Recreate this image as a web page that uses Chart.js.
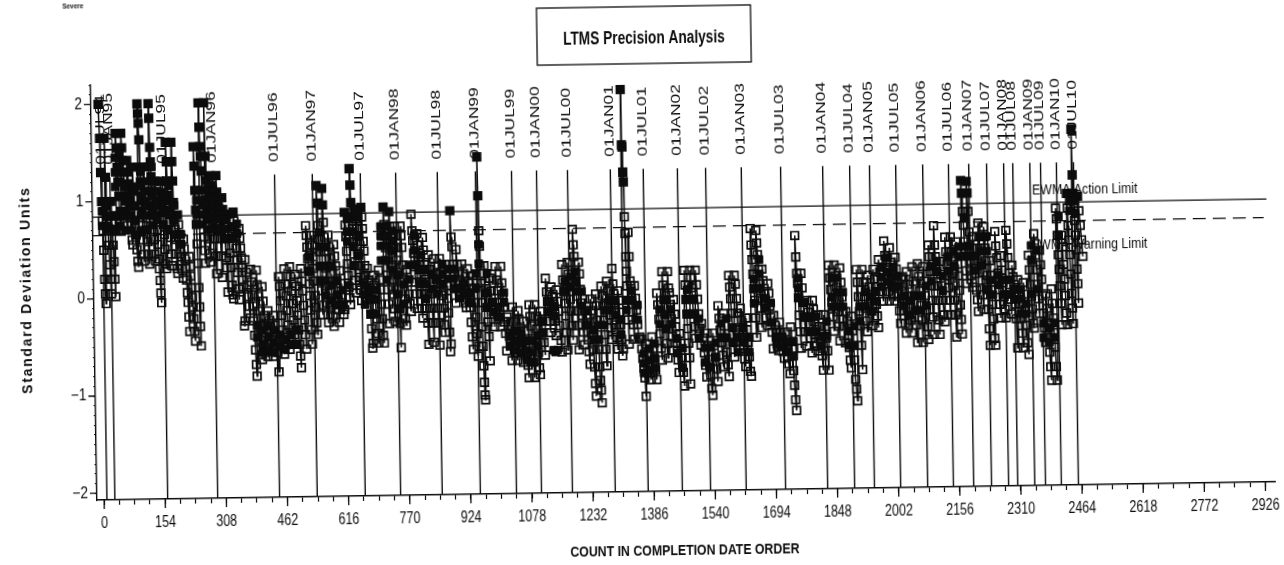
<!DOCTYPE html>
<html><head><meta charset="utf-8">
<style>html,body{margin:0;padding:0;background:#fff;overflow:hidden;width:1284px;height:565px}
canvas{position:absolute;left:0;top:0;transform-origin:104px 499px;transform:rotate(-0.89deg)}</style>
<script src="https://cdn.jsdelivr.net/npm/chart.js@4/dist/chart.umd.min.js"></script>
</head><body><canvas id="c" width="1300" height="600"></canvas>
<script>
const chartTitle='LTMS Precision Analysis';
const severity='Severe';
const xTitle='COUNT IN COMPLETION DATE ORDER';
const yTitle='Standard Deviation Units';
const dateLabels=['01JUL94','01JAN95','01JUL95','01JAN96','01JUL96','01JAN97','01JUL97','01JAN98','01JUL98','01JAN99','01JUL99','01JAN00','01JUL00','01JAN01','01JUL01','01JAN02','01JUL02','01JAN03','01JUL03','01JAN04','01JUL04','01JAN05','01JUL05','01JAN06','01JUL06','01JAN07','01JUL07','01JAN08','01JUL08','01JAN09','01JUL09','01JAN10','01JUL10'];
const dateCounts=[7,27,160,286,442,537,658,747,852,948,1039,1102,1180,1288,1371,1457,1528,1618,1717,1823,1891,1941,2007,2075,2140,2191,2236,2279,2302,2345,2372,2412,2455];
const actionLimit=[0.84,0.84];
const warningLimit=[0.65,0.65];
const actionCounts=[-18,2940];
const warningCounts=[-18,2932];
const filledLowCounts=[1138,1143,1148];
const filledLowValues=[-0.6,-0.62,-0.6];
const columnStep=14;
const columnValues=[
[2,2,1.65,1.3,1,.8,.7,.5,.2,.05,-.05],
[1.65,1.25,1,.85,.7,.55,.35,.2,.05],
[1,.85,.7,.55,.38,.2,.02,.85,.7],
[1.7,1.55,1.35,1.2,1.05,.85,.7,.85],
[1.7,1.55,1.42,1.3,1.15,1.05,.9,.75],
[1.42,1.3,1.18,1.05,.95,.85,.75,.6,.55],
[1.35,1.1,.95,.8,.65,.5,.38,.32],
[2,1.9,1.8,1.63,1.35,1.2,1.05,.9,.75,.6,.45,.38],
[1.35,1.1,.95,.82,.7,.58,.45,.35],
[2,1.85,1.55,1.4,1.25,1.1,.95,.85,.7,.6,.45,.38],
[1.2,1,.85,.7,.55,.4,.3,.18,.05,-.05],
[1.2,1.08,.98,.88,.75,.65,.5,.35,.3],
[1.6,1.4,1.2,1.05,.9,.78,.62,.45,.33],
[1.6,1.4,1.2,.98,.8,.7,.6,.45,.3,.25],
[.85,.75,.65,.55,.42,.3,.2],
[.6,.5,.4,.3,.18,.05,-.05,-.2,-.35],
[.42,.32,.22,.1,0,-.1,-.22,-.35,-.45],
[1.55,1.35,1.1,.9,.75,.55,.35,.1,-.1,-.3,-.5],
[2,1.75,1.55,1.45,1.3,1.1,.95,.8,.62,.48,.35],
[2,1.45,1.2,1,.88,.75,.6,.45,.36],
[1.25,1.15,1.05,.92,.8,.7,.6,.42,.24],
[1.25,1.08,.98,.85,.78,.7,.6,.42,.2],
[1.02,.9,.8,.72,.6,.4,.3,.05],
[.85,.72,.6,.45,.3,.12,.02,-.02],
[.87,.78,.7,.62,.5,.38,.25,.08,-.03],
[.7,.6,.5,.4,.3,.1,-.3,-.25],
[.38,.25,.12,0,-.1,-.22],
[.28,.15,.02,-.1,-.25,-.4,-.55,-.7,-.82],
[.27,.12,0,-.15,-.3,-.45,-.6,-.65],
[.1,-.05,-.2,-.3,-.42,-.55,-.62],
[-.15,-.25,-.35,-.45,-.55,-.62],
[-.2,-.3,-.4,-.5,-.58,-.78],
[.2,.1,-.05,-.2,-.35,-.48,-.6],
[.28,.12,0,-.15,-.3,-.45,-.55],
[.3,.2,.05,-.08,-.25,-.4,-.5],
[.22,.1,-.05,-.2,-.35,-.5,-.62,-.74],
[.28,.15,.05,-.1,-.25,-.4,-.55],
[.72,.62,.5,.38,.25,.12,0,-.15,-.35,-.5],
[.62,.52,.4,.28,.15,0,-.12,-.28,-.4],
[1.13,.95,.72,.58,.45,.3,.15,.05,-.1,-.2],
[1.1,.93,.75,.6,.45,.28,.1,-.08,-.2,-.28],
[.62,.5,.38,.22,.05,-.1,-.22,-.32],
[.52,.4,.3,.15,0,-.15,-.28],
[.25,.12,0,-.1,-.2,-.15],
[.85,.72,.6,.45,.32,.2,.08,-.03,-.1],
[1.3,1.13,.95,.8,.68,.55,.42,.3,.15,.02],
[.88,.78,.68,.55,.42,.3,.18,.05,-.06],
[.9,.8,.68,.55,.45,.3,.2,.05,-.05],
[.27,.15,.05,-.05,-.2,-.35,-.55,-.5],
[.2,.1,0,-.12,-.25,-.4,-.5],
[.25,.15,.05,-.1,-.25,-.42,-.5],
[.9,.72,.6,.48,.35,.2,.05,-.1,-.3],
[.85,.7,.55,.45,.3,.15,0,-.15,-.28],
[.7,.6,.48,.35,.2,.05,-.15,-.3,-.55],
[.7,.6,.48,.3,.15,-.05,-.25,-.32],
[.25,.12,0,-.1,-.18],
[.82,.65,.55,.42,.28,.12,0,-.15],
[.62,.5,.38,.25,.12,0,-.15,-.25],
[.58,.45,.3,.15,0,-.15,-.3,-.52],
[.4,.25,.12,0,-.15,-.3,-.5],
[.36,.28,.15,.02,-.15,-.3,-.53],
[.36,.22,.1,-.02,-.15,-.32,-.4],
[.3,.2,.08,-.05,-.2,-.4,-.6,-.52],
[.85,.58,.48,.3,.2,.05,-.1],
[.45,.3,.22,.1,0,.05],
[.3,.2,.1,0,-.1,-.15,-.05],
[.25,.12,0,-.15,-.3,-.45,-.58],
[.18,.05,-.1,-.25,-.42,-.65,-.55],
[1.4,1,.64,.48,.28,.1,-.1,-.35,-.55,-.75,-.92,-1.05,-1.1],
[.28,.12,0,-.15,-.3,-.45,-.7],
[.15,.02,-.1,-.22,-.35],
[.27,.13,.02,-.1,-.25,-.35],
[.27,.1,-.02,-.15,-.3,-.42,-.6],
[-.25,-.35,-.45,-.55,-.7],
[-.15,-.3,-.4,-.5,-.62,-.7],
[-.19,-.28,-.4,-.5,-.6,-.72],
[-.3,-.4,-.5,-.62,-.75,-.88],
[-.13,-.25,-.35,-.48,-.6,-.72,-.88],
[-.13,-.25,-.38,-.5,-.62,-.78,-.85],
[-.2,-.3,-.42,-.52,-.65],
[.14,0,-.1,-.2,-.3,-.42],
[.05,-.05,-.15,-.3,-.45],
[.02,-.1,-.2,-.35,-.5,-.62],
[.28,.12,0,-.12,-.25,-.42,-.6],
[.3,.18,.05,-.08,-.2,-.35,-.5],
[.64,.48,.36,.22,.1,-.05,-.2,-.35,-.6],
[.3,.18,.02,-.12,-.25,-.42,-.55],
[-.08,-.2,-.35,-.5,-.62,-.75],
[-.08,-.2,-.32,-.45,-.6,-.78,-.95,-1.08],
[-.03,-.15,-.3,-.45,-.6,-.78,-.92,-1.02,-1.15],
[.05,-.05,-.15,-.3,-.45,-.6,-.77],
[.1,0,-.12,-.25,-.38,-.5],
[.23,.07,-.03,-.12,-.22,-.35,-.48,-.6],
[0,-.1,-.22,-.35,-.5,-.67,-.6],
[2.07,1.5,1.48,1.22,1.12,.76,.59,.35,.2,.05,-.1,-.3,-.55],
[.6,.35,.1,.05,-.1,-.22,-.35,-.5],
[.05,-.08,-.2,-.35,-.5,-.48],
[-.5,-.6,-.7,-.8,-.9,-1.09],
[-.55,-.65,-.75,-.85,-.92],
[-.48,-.6,-.7,-.82,-.92],
[-.03,-.15,-.3,-.45,-.6,-.72],
[.19,.05,-.1,-.25,-.4,-.55,-.7],
[.19,.02,-.03,-.15,-.3,-.48,-.62],
[-.1,-.25,-.38,-.55,-.72,-.85],
[-.45,-.55,-.7,-.85,-.99],
[.2,.05,-.1,-.25,-.4,-.55,-.7,-.97],
[.2,.12,.02,-.1,-.25,-.38,-.5],
[.2,.05,-.1,-.25,-.4,-.57],
[-.35,-.5,-.65,-.78,-.9],
[-.45,-.58,-.72,-.88,-1.02,-1.09],
[-.45,-.58,-.7,-.82,-.95],
[-.17,-.3,-.42,-.55,-.68,-.8],
[-.25,-.38,-.5,-.65,-.78,-.9],
[.14,.02,-.1,-.25,-.4,-.55,-.7],
[.14,.05,-.1,-.25,-.42,-.62],
[-.2,-.32,-.45,-.58,-.72,-.8],
[-.3,-.42,-.55,-.7,-.85,-.9],
[.62,.45,.3,.15,0,-.12,-.3,-.5],
[.6,.47,.35,.2,.05,-.1,-.2,-.4],
[.2,.08,-.05,-.18,-.3,-.38],
[.05,-.05,-.18,-.3,-.45,-.62],
[-.28,-.38,-.5,-.6,-.64],
[-.35,-.45,-.55,-.65,-.72],
[-.45,-.55,-.65,-.78,-.88],
[-.4,-.55,-.7,-.85,-1,-1.15,-1.26],
[.54,.32,.15,.05,-.1,-.28,-.45,-.62],
[.15,0,-.15,-.3,-.45,-.6],
[-.13,-.25,-.38,-.52,-.67],
[-.13,-.22,-.35,-.48,-.6,-.65],
[-.28,-.4,-.55,-.7,-.85],
[-.28,-.4,-.52,-.65,-.85],
[.23,.1,-.02,-.15,-.3,-.45],
[.23,.12,0,-.12,-.25,-.4,-.55],
[.2,.05,-.1,-.25,-.4,-.57],
[-.25,-.35,-.5,-.62,-.75,-.83],
[-.3,-.45,-.6,-.75,-.95,-1.05,-1.17],
[.18,.05,-.1,-.25,-.4,-.6,-.85],
[.18,.05,-.1,-.22,-.35,-.46],
[.12,0,-.12,-.25,-.4],
[.18,.08,-.05,-.18,-.3,-.42],
[.28,.15,.05,-.05,-.15],
[.47,.32,.2,.08,-.05,-.15],
[.4,.25,.12,0,-.08,-.15],
[.3,.18,.05,-.1,-.25,-.38],
[.1,0,-.12,-.25,-.38,-.48],
[.15,.02,-.1,-.22,-.35,-.48],
[.2,.05,-.1,-.25,-.4,-.58],
[.23,.1,-.05,-.2,-.35,-.58],
[.2,.05,-.1,-.25,-.42,-.55],
[.42,.3,.15,0,-.15,-.32,-.5],
[.62,.42,.3,.15,0,-.15,-.35,-.5],
[.25,.12,0,-.15,-.3,-.37],
[.5,.35,.22,.1,-.02,-.15,-.3],
[.5,.35,.25,.12,0,-.15,-.3,-.53],
[.45,.35,.22,.1,-.05,-.2,-.35,-.5],
[1.08,.95,.76,.62,.45,.3,.15,.02],
[1.07,.95,.76,.55,.4,.25,.1,-.02],
[.5,.38,.25,.12,-.05,-.15,-.27],
[.64,.5,.38,.22,.05,-.1,-.25],
[.6,.5,.38,.25,.1,-.05,-.25,-.45,-.62],
[.25,.1,-.05,-.2,-.35,-.55,-.62],
[.55,.4,.28,.12,-.05,-.2,-.34],
[.3,.15,.02,-.12,-.25,-.34],
[.56,.42,.28,.12,0,-.15,-.3],
[.2,.08,-.05,-.2,-.35,-.65],
[.05,-.08,-.2,-.35,-.5,-.65],
[.02,-.1,-.25,-.42,-.6,-.72],
[.3,.15,0,-.12,-.25,-.4,-.45],
[.52,.42,.3,.15,0,-.15,-.3],
[.35,.2,.05,-.12,-.3,-.45,-.6],
[-.1,-.25,-.4,-.55,-.7,-.85,-.99],
[-.05,-.2,-.35,-.5,-.65,-.85,-.99],
[.78,.67,.5,.3,.15,-.02,-.2,-.42],
[.5,.38,.2,.05,-.12,-.3,-.42],
[.93,.78,.6,.45,.3,.1,-.1,-.25,-.41],
[1.59,1.12,.93,.8,.65,.5,.35,.15,0,-.2],
[.9,.75,.6,.45,.28]
];
const coreCounts=[6,16,26,40,52,64,78,90,104,118,132,146,160,174,188,204,244,258,272,286,300,316,336,345,392,406,420,434,448,462,476,490,525,553,567,581,595,609,623,637,651,665,679,693,707,721,735,749,763,777,791,805,819,833,847,861,875,889,903,917,931,945,953,973,987,1001,1015,1029,1043,1057,1071,1085,1099,1113,1127,1141,1169,1183,1197,1211,1225,1239,1253,1267,1281,1295,1309,1323,1337,1351,1365,1379,1393,1407,1421,1435,1449,1463,1477,1491,1505,1519,1533,1547,1561,1575,1589,1603,1617,1631,1645,1659,1673,1687,1701,1715,1729,1743,1757,1771,1785,1799,1813,1827,1841,1855,1869,1883,1897,1911,1925,1939,1953,1967,1981,1995,2009,2023,2037,2051,2065,2079,2093,2107,2121,2135,2149,2163,2177,2191,2205,2219,2233,2247,2261,2275,2289,2303,2317,2331,2345,2359,2373,2387,2401,2415,2443,2457];
const coreValues=[[.75,.9],[.75,.85,.95],[.72,.85],[1.15,1.3,1.45,.7,.85],[1.2,1.35,1.5,.75,.9],[1.15,1.3,.7,.85,1],[.7,.85,1],[.65,.8,.95,1.15],[.7,.85,1,1.15,1.3],[.7,.85,1,1.2],[.75,.9,1.05,1.2,1.35],[.8,.95,1.1],[.75,.9,1.05],[.7,.85,1,1.15],[.65,.8,.95],[.55,.65],[.75,.85,1,1.1],[.75,.85,1,1.3],[.7,.8,.95,1.1],[.7,.82,.95,1.1],[.68,.8,.92],[.6,.7,.8],[.6,.72],[.65,.75],[-.3,-.42],[-.35,-.5,-.58],[-.3,-.42,-.55],[-.35,-.48,-.58],[-.4,-.52],[-.45,-.55],[-.4,-.5],[-.35,-.5],[.25,.4],[.65,.5,.3,.15],[.5,.3,.15,0],[.3,.1,-.05],[.15,0,-.1],[.05,-.1],[.65,.78,.55,.1],[.8,.65,.5,.3],[.6,.8,.4],[0,.1,-.1],[-.05,.05,-.2],[-.05,.05,-.2],[.6,.7,.5,.35],[.6,.7,.5,.35,.15],[.55,.65,.45,.25],[.2,0,-.15],[.1,-.1],[.3,.15],[.3,.45,.6],[.4,.25,.1],[.25,.1,-.05],[.2,.05],[.15,0],[.3,.2,.1],[.25,.15],[.25,.15,.05],[.05,-.05],[.1,0],[0,-.1],[.2,.05],[.5,.3],[.2,0,-.15],[-.1,-.2],[-.15,-.25],[0,-.1],[-.45,-.55],[-.4,-.5,-.6],[-.42,-.52,-.62],[-.5,-.6,-.7],[-.5,-.62,-.72],[-.45,-.55],[-.3,-.42],[-.1,-.2],[-.15,-.25],[.1,0],[.15,.05],[.2,.1,0],[0,-.15],[-.2,-.35],[-.4,-.5],[-.35,-.5],[-.2,-.35],[-.1,-.2],[-.1,-.25],[-.3,-.45],[-.1,-.2],[-.1,0],[-.15,-.3],[-.65,-.75,-.85],[-.6,-.72,-.82],[-.55,-.7,-.8],[-.2,-.35],[-.1,-.25,-.4],[-.2,-.35],[-.5,-.65],[-.6,-.8],[-.1,0,-.25],[-.1,-.25],[-.3,-.5],[-.6,-.75],[-.6,-.8],[-.55,-.7],[-.35,-.5],[-.3,-.5],[-.4,-.55],[-.5,-.65],[-.4,-.55],[-.5,-.65],[.1,0,-.15],[.3,.15,0],[-.1,-.2],[-.15,-.35],[-.5,-.58],[-.5,-.6],[-.55,-.65],[-.55,-.7],[.1,0,-.1],[-.15,-.3],[-.3,-.45],[-.3,-.45],[-.5,-.6],[-.35,-.5],[.1,-.1,-.2],[.1,-.05,-.2],[-.05,-.2],[-.45,-.6],[-.4,-.6],[-.2,-.35],[-.05,-.2],[-.1,-.25],[-.05,-.15],[.2,.1,0],[.3,.15,.05],[.2,.1,0],[0,.1],[-.1,-.2],[-.15,-.3],[-.1,-.25],[-.1,-.25],[0,-.2],[.2,.05],[.25,.15],[.1,-.05],[.3,.15],[.35,.2],[.4,.3],[.7,.4,.3],[.4,.3],[.3,.15],[.5,.35,.2],[.5,.35,-.05],[.05,-.1],[.1,0],[.05,-.1],[.05,-.1],[-.05,-.15],[-.05,-.15,-.3],[-.2,-.3],[.4,.25,-.1],[.35,-.05],[-.4,-.55],[-.45,-.6],[-.4,-.55],[.7,.5],[.85,.75],[.85,.72]];
const lineTop=1.25, labelBase=1.38, yFloor=-2.07;
const ink='#0c0c0c', sans='"Liberation Sans",sans-serif';
const ewmaPoints=columnValues.flatMap((col,i)=>col.map((v,j)=>({x:i*columnStep+j*columnStep/col.length,y:v})));
const corePoints=coreCounts.flatMap((x,i)=>coreValues[i].map(y=>({x,y}))).concat(filledLowCounts.map((x,i)=>({x,y:filledLowValues[i]})));
const refPoints=dateCounts.flatMap(c=>[{x:c,y:yFloor},{x:c,y:lineTop},{x:c,y:null}]);
const isMajorX=v=>Math.abs(v%154)<1e-6;
const isMajorY=v=>Math.abs(v-Math.round(v))<1e-6;
function squeezed(c,text,x,y,sx){c.save();c.translate(x,y);c.scale(sx,1);c.fillText(text,0,0);c.restore();}
const decor={id:'decor',
 afterDraw(ch){
  const c=ch.ctx,xs=ch.scales.x,ys=ch.scales.y,bottom=ch.chartArea.bottom,left=ch.chartArea.left;
  c.save();c.fillStyle=ink;c.strokeStyle=ink;
  c.lineWidth=1.3;c.beginPath();
  xs.ticks.forEach(t=>{if(isMajorX(t.value)){const p=xs.getPixelForValue(t.value);c.moveTo(p,bottom);c.lineTo(p,bottom+9);}});
  ys.ticks.forEach(t=>{if(isMajorY(t.value)){const p=ys.getPixelForValue(t.value);c.moveTo(left,p);c.lineTo(left-7,p);}});
  c.stroke();
  // axis numbers, condensed like the scan
  c.textAlign='center';c.textBaseline='middle';c.font='16px '+sans;
  xs.ticks.forEach(t=>{if(isMajorX(t.value))squeezed(c,String(Math.round(t.value)),xs.getPixelForValue(t.value),bottom+24,0.78);});
  c.textAlign='right';c.font='16px '+sans;
  ys.ticks.forEach(t=>{if(isMajorY(t.value)){const r=Math.round(t.value);squeezed(c,r<0?'−'+(-r):String(r),left-9,ys.getPixelForValue(t.value),0.85);}});
  // date labels
  c.textAlign='left';c.textBaseline='middle';c.font='12px '+sans;
  dateLabels.forEach((l,i)=>{
    c.save();c.translate(xs.getPixelForValue(dateCounts[i]),ys.getPixelForValue(labelBase));
    c.rotate(-Math.PI/2);c.scale(1.45,1);c.fillText(l,0,0);c.restore();
  });
  // limit labels
  c.font='15px '+sans;
  squeezed(c,'EWMA Action Limit',xs.getPixelForValue(2350),ys.getPixelForValue(0.97),0.82);
  squeezed(c,'EWMA Warning Limit',xs.getPixelForValue(2345),ys.getPixelForValue(0.40),0.82);
  // title box
  c.lineWidth=1.3;c.strokeRect(544,15,214,57);
  c.textAlign='center';c.font='bold 18px '+sans;squeezed(c,chartTitle,651,47,0.76);
  c.textAlign='left';c.font='bold 8px '+sans;squeezed(c,severity,70,6,0.8);
  // axis titles
  c.textAlign='center';c.font='bold 14px '+sans;squeezed(c,xTitle,684,560,0.88);
  c.save();c.translate(30,289);c.rotate(-Math.PI/2);
  c.font='bold 14px '+sans;c.letterSpacing='1.7px';c.fillText(yTitle,0,0);c.restore();
  c.restore();
 }};
new Chart(document.getElementById('c'),{
 type:'scatter',
 data:{datasets:[
  {label:'EWMA',data:ewmaPoints,showLine:true,borderColor:ink,borderWidth:1.5,pointStyle:'rect',pointRadius:5.4,pointBorderWidth:1.7,pointBorderColor:ink,
   pointBackgroundColor:ctx=>ctx.raw&&ctx.raw.y>=actionLimit[0]?ink:'rgba(255,255,255,0)',order:1},
  {label:'Filled',data:corePoints,showLine:false,pointStyle:'rect',pointRadius:5.4,pointBackgroundColor:ink,pointBorderColor:ink,order:0},
  {label:'Action limit',data:actionCounts.map((x,i)=>({x,y:actionLimit[i]})),showLine:true,borderColor:ink,borderWidth:1.3,pointRadius:0,order:3},
  {label:'Warning limit',data:warningCounts.map((x,i)=>({x,y:warningLimit[i]})),showLine:true,borderColor:ink,borderWidth:1.3,borderDash:[13,7],pointRadius:0,order:3},
  {label:'Dates',data:refPoints,showLine:true,spanGaps:false,borderColor:ink,borderWidth:1.4,pointRadius:0,order:2}
 ]},
 options:{responsive:false,animation:false,devicePixelRatio:1,
  layout:{padding:{top:85,right:25,left:0,bottom:0}},
  plugins:{legend:{display:false},tooltip:{enabled:false}},
  scales:{
   x:{type:'linear',min:-18,max:2950,
    afterFit(s){s.height=100;},
    border:{color:ink,width:1.4},
    grid:{drawOnChartArea:false,tickColor:ink,tickLength:5,tickWidth:1.2},
    ticks:{stepSize:38.5,includeBounds:false,autoSkip:false,maxRotation:0,minRotation:0,color:'rgba(0,0,0,0)',callback:()=>''}
   },
   y:{type:'linear',min:yFloor,max:2.2,
    afterFit(s){s.width=97;},
    border:{color:ink,width:1.4},
    grid:{drawOnChartArea:false,tickColor:ink,tickLength:2,tickWidth:1},
    ticks:{stepSize:0.1,includeBounds:false,autoSkip:false,color:'rgba(0,0,0,0)',callback:()=>''}
   }
  }
 },
 plugins:[decor]
});
</script></body></html>
